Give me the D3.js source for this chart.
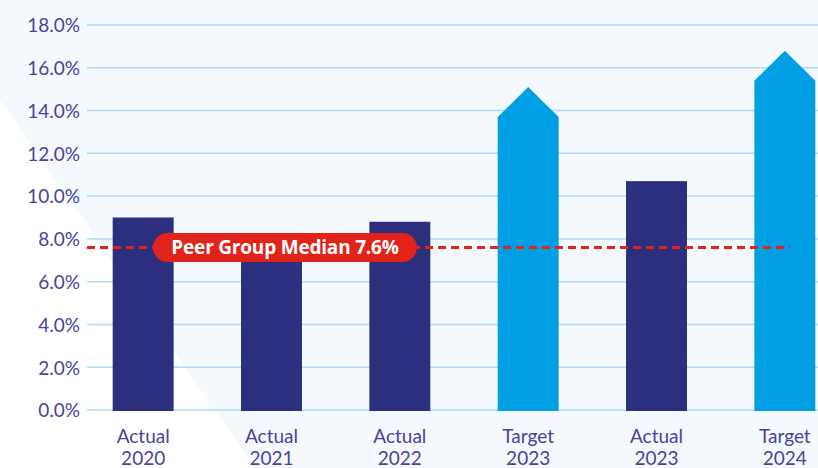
<!DOCTYPE html>
<html>
<head>
<meta charset="utf-8">
<script src="https://cdn.jsdelivr.net/npm/d3@7"></script>
<style>
  html, body { margin: 0; padding: 0; background: #ffffff; }
  svg { display: block; }
</style>
</head>
<body>
<svg id="chart" width="818" height="468"></svg>
<script>
// ---- data ----
const categories = ["Actual 2020", "Actual 2021", "Actual 2022", "Target 2023", "Actual 2023", "Target 2024"];
const labelTop = ["Actual", "Actual", "Actual", "Target", "Actual", "Target"];
const labelBottom = ["2020", "2021", "2022", "2023", "2023", "2024"];
const values = [9.0, 7.7, 8.8, 15.1, 10.7, 16.8];
const kinds = ["actual", "actual", "actual", "target", "actual", "target"];
const yTicks = [0, 2, 4, 6, 8, 10, 12, 14, 16, 18];
const medianValue = 7.6;
const medianLabel = "Peer Group Median 7.6%";

// ---- styles ----
const W = 818, H = 468;
const navy = "#2b2f7e", cyan = "#009fe3", red = "#e2231a";
const textColor = "#45459a", gridColor = "#a9dcf5";
const arrowHead = 30;

const svg = d3.select("#chart");

// background
svg.append("rect").attr("width", W).attr("height", H).attr("fill", "#f4f9fe");
svg.append("path").attr("d", "M0,100 L0,468 L255,468 Z").attr("fill", "#ffffff");

const x = d3.scaleBand().domain(categories).range([79, 849]).paddingInner(0.525).paddingOuter(0.2625);
const y = d3.scaleLinear().domain([0, 18]).range([410, 25]);

// gridlines + y labels
const yAxis = d3.axisLeft(y).tickValues(yTicks).tickFormat(d => d.toFixed(1) + "%").tickSize(0).tickPadding(0);
const gy = svg.append("g").attr("transform", "translate(80,0)").call(yAxis);
gy.select(".domain").remove();
gy.selectAll("text")
  .attr("fill", textColor)
  .attr("font-family", "Lato, 'Open Sans', sans-serif")
  .attr("font-size", 19)
  .attr("font-weight", 400)
  .attr("dy", "0.36em");
svg.append("g").selectAll("line").data(yTicks).join("line")
  .attr("x1", 87).attr("x2", W)
  .attr("y1", d => y(d)).attr("y2", d => y(d))
  .attr("stroke", gridColor).attr("stroke-width", 1.5);

// bars
const bars = svg.append("g");
categories.forEach((c, i) => {
  const x0 = x(c), x1 = x(c) + x.bandwidth(), cx = x0 + x.bandwidth() / 2;
  const top = y(values[i]);
  if (kinds[i] === "actual") {
    bars.append("rect").attr("x", x0).attr("y", top)
      .attr("width", x.bandwidth()).attr("height", y(0) - top + 1)
      .attr("fill", navy);
  } else {
    const sh = top + arrowHead;
    bars.append("path")
      .attr("d", `M${x0},${y(0) + 1} L${x0},${sh} L${cx},${top} L${x1},${sh} L${x1},${y(0) + 1} Z`)
      .attr("fill", cyan);
  }
});

// x labels
const gx = svg.append("g");
categories.forEach((c, i) => {
  const cx = x(c) + x.bandwidth() / 2;
  const t = gx.append("text").attr("text-anchor", "middle")
    .attr("fill", textColor)
    .attr("font-family", "Lato, 'Open Sans', sans-serif")
    .attr("font-size", 19);
  t.append("tspan").attr("x", cx).attr("y", 443).text(labelTop[i]);
  t.append("tspan").attr("x", cx).attr("y", 465).text(labelBottom[i]);
});

// median line
svg.append("line")
  .attr("x1", 87).attr("x2", 790)
  .attr("y1", y(medianValue)).attr("y2", y(medianValue))
  .attr("stroke", red).attr("stroke-width", 3).attr("stroke-dasharray", "8,5");

// pill label
const pillG = svg.append("g");
const pillCx = 285, pillY = y(medianValue);
const pw = 264, ph = 29;
pillG.append("rect")
  .attr("x", pillCx - pw / 2).attr("y", pillY - ph / 2)
  .attr("width", pw).attr("height", ph)
  .attr("rx", 14.5).attr("fill", red);
pillG.append("text")
  .attr("x", pillCx).attr("y", pillY).attr("dy", "0.36em")
  .attr("text-anchor", "middle")
  .attr("fill", "#ffffff")
  .attr("font-family", "'Open Sans', Lato, sans-serif")
  .attr("font-weight", 700)
  .attr("font-size", 19)
  .attr("letter-spacing", -0.2)
  .text(medianLabel);
</script>
</body>
</html>
